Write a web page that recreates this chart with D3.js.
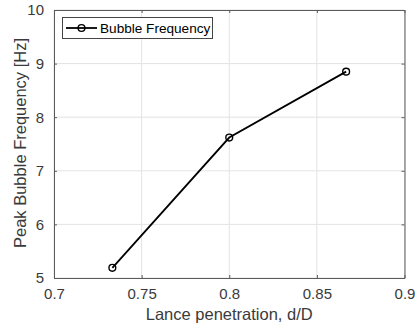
<!DOCTYPE html>
<html><head><meta charset="utf-8">
<script src="https://cdn.jsdelivr.net/npm/d3@7"></script>
<style>body{margin:0;background:#fff;font-family:"Liberation Sans",Arial,sans-serif;}</style>
</head><body><svg id="c" width="416" height="329"></svg>
<script>
const xValues = [0.7333, 0.8, 0.8667];
const yValues = [5.19, 7.62, 8.85];
const xTicks = [0.7, 0.75, 0.8, 0.85, 0.9];
const yTicks = [5, 6, 7, 8, 9, 10];
const seriesName = "Bubble Frequency";
const xLabel = "Lance penetration, d/D";
const yLabel = "Peak Bubble Frequency [Hz]";

const svg = d3.select("#c");
const L = 54, R = 404.5, T = 10, B = 278;
const x = d3.scaleLinear().domain([0.7, 0.9]).range([L, R]);
const y = d3.scaleLinear().domain([5, 10]).range([B, T]);
const axisCol = "#5a5a5a", textCol = "#3a3a3a";

// grid
svg.append("g").selectAll("line").data(xTicks).join("line")
  .attr("x1", d => x(d)).attr("x2", d => x(d)).attr("y1", T).attr("y2", B)
  .attr("stroke", "#e3e3e3").attr("stroke-width", 1);
svg.append("g").selectAll("line").data(yTicks).join("line")
  .attr("y1", d => y(d)).attr("y2", d => y(d)).attr("x1", L).attr("x2", R)
  .attr("stroke", "#e3e3e3").attr("stroke-width", 1);

// axes
svg.append("g").attr("transform", `translate(0,${B})`)
  .call(d3.axisBottom(x).tickValues(xTicks).tickSizeInner(-3).tickSizeOuter(0).tickPadding(10).tickFormat(d => String(d)));
svg.append("g").attr("transform", `translate(${L},0)`)
  .call(d3.axisLeft(y).tickValues(yTicks).tickSizeInner(-3).tickSizeOuter(0).tickPadding(10).tickFormat(d => String(d)));
svg.append("g").attr("transform", `translate(0,${T})`)
  .call(d3.axisTop(x).tickValues(xTicks).tickSizeInner(-3).tickSizeOuter(0).tickFormat(""));
svg.append("g").attr("transform", `translate(${R},0)`)
  .call(d3.axisRight(y).tickValues(yTicks).tickSizeInner(-3).tickSizeOuter(0).tickFormat(""));
svg.selectAll(".domain, .tick line").attr("stroke", axisCol);
svg.selectAll(".tick text").attr("fill", textCol).style("font-size", "15px")
  .style("font-family", "'Liberation Sans', Arial, sans-serif");

// labels
svg.append("text").attr("x", (L + R) / 2).attr("y", 320).attr("text-anchor", "middle")
  .attr("fill", textCol).style("font-size", "16.5px").text(xLabel);
svg.append("text").attr("transform", `translate(26,${(T + B) / 2 - 1}) rotate(-90)`)
  .attr("text-anchor", "middle").attr("fill", textCol).style("font-size", "16.5px").text(yLabel);

// line
const pts = xValues.map((v, i) => [v, yValues[i]]);
svg.append("path").datum(pts)
  .attr("d", d3.line().x(d => x(d[0])).y(d => y(d[1])))
  .attr("fill", "none").attr("stroke", "#000").attr("stroke-width", 1.8);
svg.append("g").selectAll("circle").data(pts).join("circle")
  .attr("cx", d => x(d[0])).attr("cy", d => y(d[1])).attr("r", 3.4)
  .attr("fill", "none").attr("stroke", "#000").attr("stroke-width", 1.4);

// legend
const lg = svg.append("g");
lg.append("rect").attr("x", 62.5).attr("y", 17.5).attr("width", 150).attr("height", 21)
  .attr("fill", "#fff").attr("stroke", "#444").attr("stroke-width", 1);
lg.append("line").attr("x1", 66).attr("x2", 97).attr("y1", 28).attr("y2", 28)
  .attr("stroke", "#000").attr("stroke-width", 1.8);
lg.append("circle").attr("cx", 81.5).attr("cy", 28).attr("r", 3.4)
  .attr("fill", "none").attr("stroke", "#000").attr("stroke-width", 1.4);
lg.append("text").attr("x", 100).attr("y", 32.8).attr("fill", "#000")
  .style("font-size", "13.6px").text(seriesName);
</script></body></html>
